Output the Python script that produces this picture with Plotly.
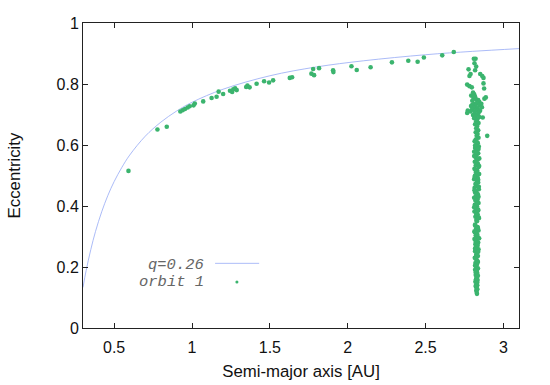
import plotly.graph_objects as go

# q = 0.26 curve
curve_a = [0.30, 0.32, 0.35, 0.38, 0.42, 0.46, 0.50, 0.55, 0.60, 0.70, 0.80, 0.90, 1.00,
           1.20, 1.50, 1.80, 2.10, 2.50, 2.80, 3.10]
curve_e = [0.133, 0.188, 0.257, 0.316, 0.381, 0.435, 0.480, 0.527, 0.567, 0.629, 0.675,
           0.711, 0.740, 0.783, 0.827, 0.856, 0.876, 0.896, 0.907, 0.916]

# orbit 1 points along the curve
track_a = [0.592, 0.778, 0.838, 0.925, 0.940, 0.955, 0.972, 0.985, 1.010, 1.018, 1.072,
           1.126, 1.158, 1.171, 1.200, 1.244, 1.258, 1.265, 1.277, 1.287, 1.348, 1.356,
           1.370, 1.415, 1.463, 1.495, 1.521, 1.628, 1.643, 1.767, 1.784, 1.778, 1.816,
           1.906, 1.908, 2.024, 2.058, 2.147, 2.284, 2.389, 2.449, 2.489, 2.607, 2.681]
track_e = [0.515, 0.651, 0.660, 0.710, 0.714, 0.718, 0.723, 0.727, 0.730, 0.736, 0.743,
           0.754, 0.758, 0.775, 0.767, 0.778, 0.774, 0.783, 0.786, 0.780, 0.790, 0.795,
           0.789, 0.801, 0.809, 0.805, 0.812, 0.820, 0.822, 0.834, 0.829, 0.849, 0.852,
           0.845, 0.839, 0.858, 0.846, 0.855, 0.871, 0.876, 0.873, 0.887, 0.894, 0.905]

# orbit 1 points in the cluster near a ~ 2.82 AU (upper scattered part)
top_a = [2.810, 2.821, 2.814, 2.825, 2.776, 2.818, 2.789, 2.782, 2.851, 2.864, 2.872,
         2.872, 2.876, 2.767, 2.782, 2.797, 2.793, 2.800, 2.878, 2.887, 2.771, 2.767,
         2.867, 2.896,
         2.805, 2.812, 2.818, 2.808, 2.825, 2.838, 2.845, 2.830, 2.815, 2.800, 2.792,
         2.822, 2.848, 2.858, 2.862, 2.810, 2.835, 2.798, 2.825, 2.850, 2.788, 2.815,
         2.840, 2.830, 2.805, 2.820, 2.845, 2.812, 2.832, 2.825, 2.840, 2.818, 2.832,
         2.825, 2.838, 2.822, 2.834, 2.828, 2.840, 2.822]
top_e = [0.883, 0.883, 0.868, 0.857, 0.848, 0.845, 0.833, 0.826, 0.833, 0.826, 0.820,
         0.802, 0.785, 0.798, 0.793, 0.789, 0.762, 0.745, 0.752, 0.756, 0.713, 0.705,
         0.690, 0.630,
         0.772, 0.766, 0.758, 0.752, 0.750, 0.747, 0.742, 0.738, 0.735, 0.732, 0.728,
         0.728, 0.730, 0.735, 0.724, 0.722, 0.720, 0.716, 0.714, 0.712, 0.710, 0.708,
         0.705, 0.700, 0.698, 0.694, 0.692, 0.688, 0.684, 0.678, 0.672, 0.668, 0.662,
         0.655, 0.648, 0.642, 0.636, 0.630, 0.624, 0.618]

# lower narrow column
col_e1 = [0.612, 0.606, 0.600, 0.595, 0.590, 0.584, 0.578, 0.573, 0.567, 0.561, 0.556,
          0.550, 0.545, 0.539, 0.533, 0.528, 0.522, 0.516, 0.511, 0.505, 0.500, 0.494,
          0.488, 0.483, 0.477, 0.472, 0.466, 0.460, 0.455, 0.449, 0.444, 0.438, 0.432,
          0.427, 0.421, 0.416, 0.410, 0.404, 0.399, 0.393, 0.388, 0.382, 0.376, 0.371,
          0.365, 0.360, 0.354, 0.336, 0.331, 0.325, 0.320, 0.314, 0.308, 0.303, 0.297,
          0.292, 0.286, 0.280, 0.275, 0.269, 0.264, 0.258, 0.252, 0.247, 0.241, 0.236,
          0.230, 0.224, 0.219, 0.213, 0.208, 0.202, 0.196, 0.191, 0.185, 0.180, 0.174,
          0.168, 0.163, 0.157, 0.152, 0.146, 0.140, 0.135, 0.129, 0.124, 0.118, 0.112]
col_a1 = [2.815, 2.835, 2.825, 2.842, 2.818, 2.830, 2.812, 2.838, 2.828, 2.820, 2.845,
          2.826, 2.816, 2.836, 2.822, 2.840, 2.814, 2.832, 2.824, 2.844, 2.818, 2.834,
          2.812, 2.830, 2.838, 2.820, 2.828, 2.815, 2.842, 2.826, 2.818, 2.836, 2.822,
          2.812, 2.834, 2.826, 2.840, 2.816, 2.830, 2.822, 2.838, 2.814, 2.828, 2.835,
          2.820, 2.842, 2.826, 2.818, 2.834, 2.824, 2.840, 2.816, 2.830, 2.822, 2.836,
          2.814, 2.828, 2.838, 2.820, 2.832, 2.824, 2.840, 2.818, 2.830, 2.826, 2.836,
          2.816, 2.828, 2.834, 2.820, 2.830, 2.824, 2.836, 2.818, 2.828, 2.832, 2.822,
          2.830, 2.826, 2.834, 2.820, 2.828, 2.832, 2.824, 2.830, 2.826, 2.828, 2.830]
col_e2 = [0.609, 0.598, 0.587, 0.576, 0.564, 0.553, 0.542, 0.531, 0.519, 0.508, 0.497,
          0.486, 0.474, 0.463, 0.452, 0.441, 0.430, 0.418, 0.407, 0.396, 0.385, 0.373,
          0.362, 0.350, 0.339, 0.328, 0.317, 0.306, 0.294, 0.283, 0.272, 0.261, 0.250,
          0.238, 0.227, 0.216, 0.205, 0.193, 0.182, 0.171, 0.160, 0.149, 0.138, 0.127]
col_a2 = [2.832, 2.818, 2.840, 2.824, 2.812, 2.836, 2.828, 2.844, 2.820, 2.834, 2.816,
          2.838, 2.826, 2.842, 2.814, 2.830, 2.840, 2.820, 2.832, 2.812, 2.838, 2.826,
          2.842, 2.830, 2.818, 2.836, 2.814, 2.832, 2.844, 2.822, 2.834, 2.818, 2.838,
          2.826, 2.822, 2.836, 2.818, 2.832, 2.822, 2.836, 2.824, 2.832, 2.822, 2.832]

orbit_a = track_a + top_a + col_a1 + col_a2
orbit_e = track_e + top_e + col_e1 + col_e2

x_ticks = [0.5, 1, 1.5, 2, 2.5, 3]
x_tick_text = ["0.5", "1", "1.5", "2", "2.5", "3"]
y_ticks = [0, 0.2, 0.4, 0.6, 0.8, 1]
y_tick_text = ["0", "0.2", "0.4", "0.6", "0.8", "1"]

LINE_COLOR = "rgb(150,170,245)"
DOT_COLOR = "#3bb46e"
AXIS_COLOR = "#222222"
FONT = "Liberation Sans"

fig = go.Figure()
fig.add_trace(go.Scatter(x=curve_a, y=curve_e, mode="lines", line_shape="spline",
                         line=dict(color=LINE_COLOR, width=0.8), showlegend=False,
                         hoverinfo="skip"))
fig.add_trace(go.Scatter(x=orbit_a, y=orbit_e, mode="markers",
                         marker=dict(color=DOT_COLOR, size=4.6, line=dict(width=0)),
                         showlegend=False))

axis_common = dict(showline=True, linecolor=AXIS_COLOR, linewidth=1, mirror="ticks",
                   ticks="inside", ticklen=5, tickcolor=AXIS_COLOR, tickwidth=1,
                   showgrid=False, zeroline=False, automargin=False,
                   tickfont=dict(family=FONT, size=16, color="#111"))

fig.update_xaxes(range=[0.3, 3.1], tickvals=x_ticks, ticktext=x_tick_text,
                 ticklabelstandoff=5,
                 title=dict(text="Semi-major axis [AU]", standoff=10,
                            font=dict(family=FONT, size=16.8, color="#111")),
                 **axis_common)
fig.update_yaxes(range=[0, 1], tickvals=y_ticks, ticktext=y_tick_text,
                 title=dict(text="Eccentricity", standoff=31,
                            font=dict(family=FONT, size=16.8, color="#111")),
                 **axis_common)

legend_font = dict(family="Liberation Mono", size=15.5, color="#666666", style="italic")
fig.add_annotation(xref="paper", yref="paper", x=0.280, y=0.206, text="q=0.26",
                   showarrow=False, xanchor="right", yanchor="middle", font=legend_font,
                   borderpad=0)
fig.add_annotation(xref="paper", yref="paper", x=0.280, y=0.150, text="orbit 1",
                   showarrow=False, xanchor="right", yanchor="middle", font=legend_font,
                   borderpad=0)
fig.add_shape(type="line", xref="paper", yref="paper", x0=0.303, x1=0.404, y0=0.212,
              y1=0.212, line=dict(color=LINE_COLOR, width=0.8))
fig.add_shape(type="circle", xref="paper", yref="paper", x0=0.3495, x1=0.3565,
              y0=0.146, y1=0.156, fillcolor=DOT_COLOR, line=dict(width=0))

fig.update_layout(width=550, height=385, margin=dict(l=83, r=31, t=23, b=57),
                  paper_bgcolor="white", plot_bgcolor="white",
                  font=dict(family=FONT, color="#111"))

fig.write_html("out.html", config={"displayModeBar": False},
               post_script="document.body.style.margin='0';document.body.style.padding='0';")
